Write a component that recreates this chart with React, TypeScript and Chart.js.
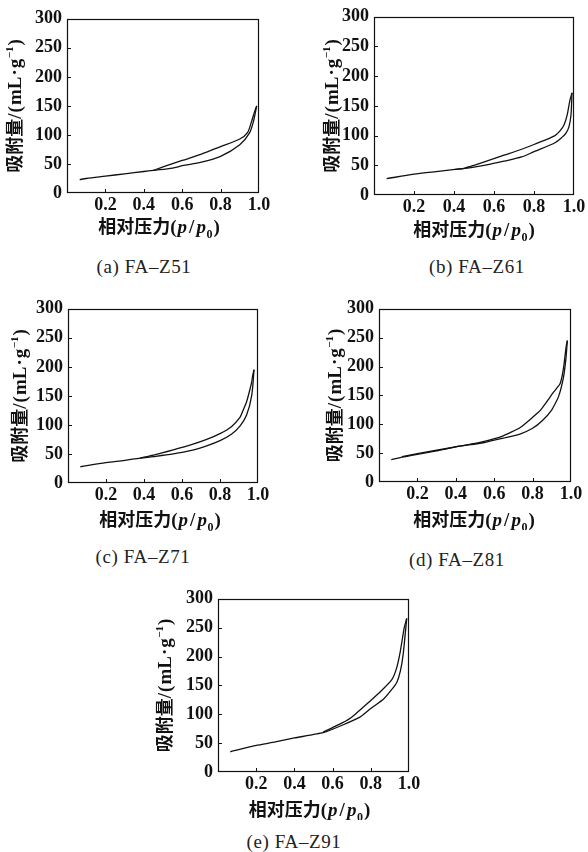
import React, { useEffect, useRef } from 'react';
import { Chart, registerables } from 'chart.js';

Chart.register(...registerables);

// ---- tick labels ----
const xTickValues = [0.2, 0.4, 0.6, 0.8, 1.0];
const yTickValues = [0, 50, 100, 150, 200, 250, 300];

// ---- (a) FA-Z51 ----
const z51AdsP = [0.066, 0.1, 0.2, 0.3, 0.4, 0.45, 0.55, 0.6, 0.7, 0.8, 0.9, 0.95, 0.97, 0.988];
const z51AdsV = [23, 25, 29, 33, 37, 39, 43, 47, 53, 63, 83, 103, 122, 150];
const z51DesP = [0.988, 0.975, 0.96, 0.94, 0.9, 0.8, 0.7, 0.6, 0.5, 0.45];
const z51DesV = [150, 138, 122, 104, 93, 80, 67, 56, 45, 39];

// ---- (b) FA-Z61 ----
const z61AdsP = [0.063, 0.2, 0.3, 0.405, 0.5, 0.57, 0.65, 0.738, 0.8, 0.905, 0.94, 0.96, 0.975, 0.985, 0.99];
const z61AdsV = [27.5, 35, 39, 43, 47, 51, 57, 64, 73, 88, 97, 104, 115, 135, 172];
const z61DesP = [0.99, 0.98, 0.966, 0.95, 0.93, 0.905, 0.8, 0.738, 0.65, 0.57, 0.5, 0.45, 0.405];
const z61DesV = [172, 160, 135, 118, 108, 100, 85, 77, 67, 58, 50, 45, 43];

// ---- (c) FA-Z71 ----
const z71AdsP = [0.065, 0.2, 0.3, 0.38, 0.45, 0.554, 0.65, 0.73, 0.8, 0.86, 0.905, 0.94, 0.967, 0.979];
const z71AdsV = [28, 35, 39, 43, 45.5, 50, 56, 64, 73, 84, 98, 117, 151, 195];
const z71DesP = [0.979, 0.972, 0.967, 0.955, 0.94, 0.92, 0.905, 0.86, 0.8, 0.73, 0.65, 0.554, 0.45, 0.38];
const z71DesV = [195, 185, 174, 158, 140, 124, 113, 97, 85, 75, 66, 57, 48, 43];

// ---- (d) FA-Z81 ----
const z81AdsP = [0.064, 0.12, 0.2, 0.3, 0.4, 0.543, 0.647, 0.734, 0.8, 0.85, 0.9, 0.934, 0.96, 0.974, 0.981];
const z81AdsV = [38.5, 43, 48, 54, 61, 68, 76, 83, 93, 106, 125, 147, 180, 215, 245];
const z81DesP = [0.981, 0.975, 0.96, 0.943, 0.91, 0.84, 0.8, 0.734, 0.647, 0.543, 0.42, 0.3, 0.2, 0.12];
const z81DesV = [245, 235, 195, 170, 156, 124, 112, 94, 80, 70, 62, 55, 49, 44];

// ---- (e) FA-Z91 ----
const z91AdsP = [0.064, 0.2, 0.3, 0.4, 0.55, 0.65, 0.743, 0.8, 0.866, 0.91, 0.936, 0.955, 0.97, 0.988];
const z91AdsV = [35, 46, 52, 59, 68, 81, 95, 110, 126, 143, 155, 175, 205, 266];
const z91DesP = [0.988, 0.975, 0.955, 0.935, 0.91, 0.85, 0.8, 0.7, 0.65, 0.6, 0.55];
const z91DesV = [266, 250, 210, 180, 160, 139, 124, 95, 85, 77, 69];

// ---- captions ----
const captions = ['(a) FA–Z51', '(b) FA–Z61', '(c) FA–Z71', '(d) FA–Z81', '(e) FA–Z91'];

type Panel = {
  caption: string;
  adsP: number[]; adsV: number[]; desP: number[]; desV: number[];
  tension: number;
  l: number; t: number; r: number; b: number;
  yTitleDx: number; xTitleDy: number; xTitleDx: number;
  capX: number; capY: number;
};

const panels: Panel[] = [
  { caption: captions[0], adsP: z51AdsP, adsV: z51AdsV, desP: z51DesP, desV: z51DesV, tension: 0.3,
    l: 67, t: 15, r: 259, b: 193, yTitleDx: 52, xTitleDy: 34, xTitleDx: -4, capX: 144, capY: 267 },
  { caption: captions[1], adsP: z61AdsP, adsV: z61AdsV, desP: z61DesP, desV: z61DesV, tension: 0.3,
    l: 374, t: 13, r: 574, b: 195, yTitleDx: 42, xTitleDy: 35, xTitleDx: 0, capX: 477, capY: 267 },
  { caption: captions[2], adsP: z71AdsP, adsV: z71AdsV, desP: z71DesP, desV: z71DesV, tension: 0.3,
    l: 68, t: 305, r: 258, b: 483, yTitleDx: 48, xTitleDy: 37, xTitleDx: -3, capX: 143, capY: 557 },
  { caption: captions[3], adsP: z81AdsP, adsV: z81AdsV, desP: z81DesP, desV: z81DesV, tension: 0.15,
    l: 379, t: 305, r: 571, b: 482, yTitleDx: 44, xTitleDy: 38, xTitleDx: -1, capX: 457, capY: 560 },
  { caption: captions[4], adsP: z91AdsP, adsV: z91AdsV, desP: z91DesP, desV: z91DesV, tension: 0.15,
    l: 218, t: 595, r: 409, b: 772, yTitleDx: 53, xTitleDy: 38, xTitleDx: -4, capX: 294, capY: 842 },
];

const PAD_L = 66, PAD_T = 12, PAD_R = 18, PAD_B = 48;
const CJK = '"Noto Sans CJK SC", sans-serif';
const SERIF = '"Liberation Serif", "DejaVu Serif", serif';
const INK = '#111';

type Run = { t: string; font: string; dy?: number; gap?: number };

const xTitleRuns: Run[] = [
  { t: '相对压力', font: `bold 18px ${CJK}`, gap: 0 },
  { t: '(', font: `bold 19px ${SERIF}`, gap: 1 },
  { t: 'p', font: `italic bold 19px ${SERIF}`, gap: 2 },
  { t: '/', font: `bold 19px ${SERIF}`, gap: 2 },
  { t: 'p', font: `italic bold 19px ${SERIF}`, gap: 0.5 },
  { t: '0', font: `bold 12px ${SERIF}`, dy: 5, gap: 1 },
  { t: ')', font: `bold 19px ${SERIF}`, gap: 0 },
];

const yTitleRuns: Run[] = [
  { t: '吸附量', font: `bold 18px ${CJK}`, gap: 0 },
  { t: '/', font: `bold 19px ${SERIF}`, gap: 1 },
  { t: '(', font: `bold 19px ${SERIF}`, gap: 1 },
  { t: 'mL', font: `bold 19px ${SERIF}`, gap: 1 },
  { t: '·', font: `bold 19px ${SERIF}`, gap: 1 },
  { t: 'g', font: `bold 19px ${SERIF}`, gap: 0.5 },
  { t: '−1', font: `bold 11px ${SERIF}`, dy: -8, gap: 1 },
  { t: ')', font: `bold 19px ${SERIF}`, gap: 0 },
];

function drawRuns(ctx: CanvasRenderingContext2D, runs: Run[], cx: number, cy: number, rotate: boolean) {
  ctx.save();
  ctx.translate(cx, cy);
  if (rotate) ctx.rotate(-Math.PI / 2);
  ctx.textAlign = 'left';
  ctx.textBaseline = 'alphabetic';
  ctx.fillStyle = INK;
  let total = 0;
  const widths = runs.map((r) => {
    ctx.font = r.font;
    const w = ctx.measureText(r.t).width + (r.gap || 0);
    total += w;
    return w;
  });
  let x = -total / 2;
  runs.forEach((r, i) => {
    ctx.font = r.font;
    ctx.fillText(r.t, x, 6 + (r.dy || 0));
    x += widths[i];
  });
  ctx.restore();
}

function PanelChart({ p }: { p: Panel }) {
  const ref = useRef<HTMLCanvasElement | null>(null);
  const w = p.r - p.l + PAD_L + PAD_R;
  const h = p.b - p.t + PAD_T + PAD_B;

  useEffect(() => {
    if (!ref.current) return;
    const lineStyle = {
      showLine: true,
      borderColor: INK,
      borderWidth: 1.3,
      pointRadius: 0,
      pointHoverRadius: 0,
      tension: p.tension,
      fill: false,
    };
    const framePlugin = {
      id: 'frameAndTitles',
      afterDraw(chart: any) {
        const { ctx, chartArea, scales } = chart;
        const { left, top, right, bottom } = chartArea;
        ctx.save();
        ctx.strokeStyle = INK;
        ctx.lineWidth = 1.2;
        ctx.strokeRect(Math.round(left) + 0.5, Math.round(top) + 0.5, Math.round(right - left) - 1, Math.round(bottom - top) - 1);
        // inward tick marks
        ctx.lineWidth = 1;
        ctx.beginPath();
        xTickValues.slice(0, -1).forEach((v) => {
          const x = Math.round(scales.x.getPixelForValue(v)) + 0.5;
          ctx.moveTo(x, bottom);
          ctx.lineTo(x, bottom - 4);
        });
        yTickValues.slice(1, -1).forEach((v) => {
          const y = Math.round(scales.y.getPixelForValue(v)) + 0.5;
          ctx.moveTo(left, y);
          ctx.lineTo(left + 4, y);
        });
        ctx.stroke();
        ctx.restore();
        drawRuns(ctx, xTitleRuns, (left + right) / 2 + p.xTitleDx, bottom + p.xTitleDy, false);
        drawRuns(ctx, yTitleRuns, left - p.yTitleDx, (top + bottom) / 2, true);
      },
    };
    const chart = new Chart(ref.current, {
      type: 'scatter',
      data: {
        datasets: [
          { ...lineStyle, label: 'adsorption', data: p.adsP.map((x, i) => ({ x, y: p.adsV[i] })) },
          { ...lineStyle, label: 'desorption', data: p.desP.map((x, i) => ({ x, y: p.desV[i] })) },
        ],
      } as any,
      options: {
        responsive: false,
        animation: false,
        events: [],
        layout: { padding: { left: 0, top: PAD_T, right: PAD_R, bottom: 0 } },
        plugins: { legend: { display: false }, tooltip: { enabled: false } },
        scales: {
          x: {
            type: 'linear',
            min: 0,
            max: 1,
            afterBuildTicks: (s: any) => { s.ticks = xTickValues.map((v) => ({ value: v })); },
            afterFit: (s: any) => { s.height = PAD_B; },
            grid: { display: false, drawTicks: false },
            border: { display: false },
            ticks: {
              autoSkip: false,
              maxRotation: 0,
              padding: 2,
              color: INK,
              font: { family: SERIF, size: 18, weight: 'bold' },
              callback: (v: any) => Number(v).toFixed(1),
            },
          },
          y: {
            type: 'linear',
            min: 0,
            max: 300,
            afterBuildTicks: (s: any) => { s.ticks = yTickValues.map((v) => ({ value: v })); },
            afterFit: (s: any) => { s.width = PAD_L; },
            grid: { display: false, drawTicks: false },
            border: { display: false },
            ticks: {
              autoSkip: false,
              padding: 5,
              color: INK,
              font: { family: SERIF, size: 18, weight: 'bold' },
              callback: (v: any) => String(v),
            },
          },
        },
      } as any,
      plugins: [framePlugin],
    });
    return () => chart.destroy();
  }, [p]);

  return (
    <>
      <div style={{ position: 'absolute', left: p.l - PAD_L, top: p.t - PAD_T, width: w, height: h }}>
        <canvas ref={ref} width={w} height={h} style={{ width: w, height: h, display: 'block' }} />
      </div>
      <div
        style={{
          position: 'absolute',
          left: p.capX - 100,
          top: p.capY - 12,
          width: 200,
          height: 24,
          lineHeight: '24px',
          textAlign: 'center',
          fontFamily: SERIF,
          fontSize: 19,
          letterSpacing: '0.6px',
          color: '#222',
          whiteSpace: 'nowrap',
        }}
      >
        {p.caption}
      </div>
    </>
  );
}

export default function App() {
  return (
    <div style={{ position: 'absolute', left: 0, top: 0, width: 588, height: 852, background: '#fff', overflow: 'hidden' }}>
      {panels.map((p, i) => (
        <PanelChart key={i} p={p} />
      ))}
    </div>
  );
}
